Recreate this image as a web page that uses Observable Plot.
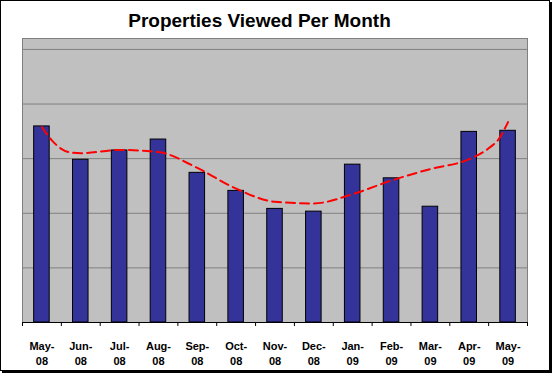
<!DOCTYPE html>
<html>
<head>
<meta charset="utf-8">
<script src="https://cdn.jsdelivr.net/npm/d3@7"></script>
<script src="https://cdn.jsdelivr.net/npm/@observablehq/plot@0.6"></script>
<style>
  html, body { margin: 0; padding: 0; background: #fff; }
  #wrap { position: relative; width: 552px; height: 373px; overflow: hidden; }
  #wrap svg { position: absolute; left: 0; top: 0; }
  #border { position: absolute; left: 0; top: 0; width: 548px; height: 369px;
            border: 1px solid #000; box-shadow: 2px 2px 0 #000; pointer-events: none; }
</style>
</head>
<body>
<div id="wrap"><div id="border"></div></div>
<script>
const title = "Properties Viewed Per Month";
const months = ["May-08","Jun-08","Jul-08","Aug-08","Sep-08","Oct-08","Nov-08","Dec-08","Jan-09","Feb-09","Mar-09","Apr-09","May-09"];
const views = [359, 298, 315, 335, 274, 241, 208, 203, 289, 264, 212, 349, 351];
const gridValues = [100, 200, 300, 400, 500];
const trendPos = [0, 0.25, 0.5, 0.75, 1, 2, 3, 4, 5, 6, 7, 8, 9, 10, 11, 11.5, 11.75, 12];
const trendValues = [358, 334, 318, 311, 310, 316, 312, 283, 245, 221, 218, 235, 260, 281, 299, 319, 335, 367];

const font = "'Liberation Sans', Arial, sans-serif";
const boundaries = d3.range(months.length + 1).map(i => i - 0.5);

const chart = Plot.plot({
  width: 552,
  height: 373,
  marginLeft: 22,
  marginRight: 25,
  marginTop: 38,
  marginBottom: 51,
  style: { fontFamily: font, background: "transparent", overflow: "visible" },
  x: { domain: [-0.5, months.length - 0.5], axis: null },
  y: { domain: [0, 520], axis: null },
  marks: [
    Plot.frame({ fill: "#c0c0c0", stroke: "#808080" }),
    Plot.ruleY(gridValues, { stroke: "#808080", strokeWidth: 1 }),
    Plot.rect(views, {
      x1: (d, i) => i - 0.2,
      x2: (d, i) => i + 0.2,
      y1: 0,
      y2: d => d,
      fill: "#333399",
      stroke: "#000",
      strokeWidth: 1
    }),
    Plot.ruleY([0], { stroke: "#000" }),
    Plot.lineY(trendValues, {
      x: trendPos,
      y: d => d,
      stroke: "#ff0000",
      strokeWidth: 2,
      strokeDasharray: "9,5",
      curve: "monotone-x"
    }),
    Plot.axisX(boundaries, { tickSize: 4, fill: "none", stroke: "#000", label: null }),
    Plot.text(months, {
      x: (d, i) => i,
      frameAnchor: "bottom",
      text: d => d.replace("-", "-\n"),
      lineAnchor: "top",
      lineHeight: 1.364,
      dy: 17,
      fontSize: 11,
      fontWeight: "bold",
      fill: "#000"
    }),
    Plot.text([title], {
      frameAnchor: "top",
      text: d => d,
      lineAnchor: "bottom",
      dx: -15.5,
      dy: -12,
      fontSize: 19,
      fontWeight: "bold",
      fill: "#000"
    })
  ]
});
document.getElementById("wrap").insertBefore(chart, document.getElementById("border"));
</script>
</body>
</html>
